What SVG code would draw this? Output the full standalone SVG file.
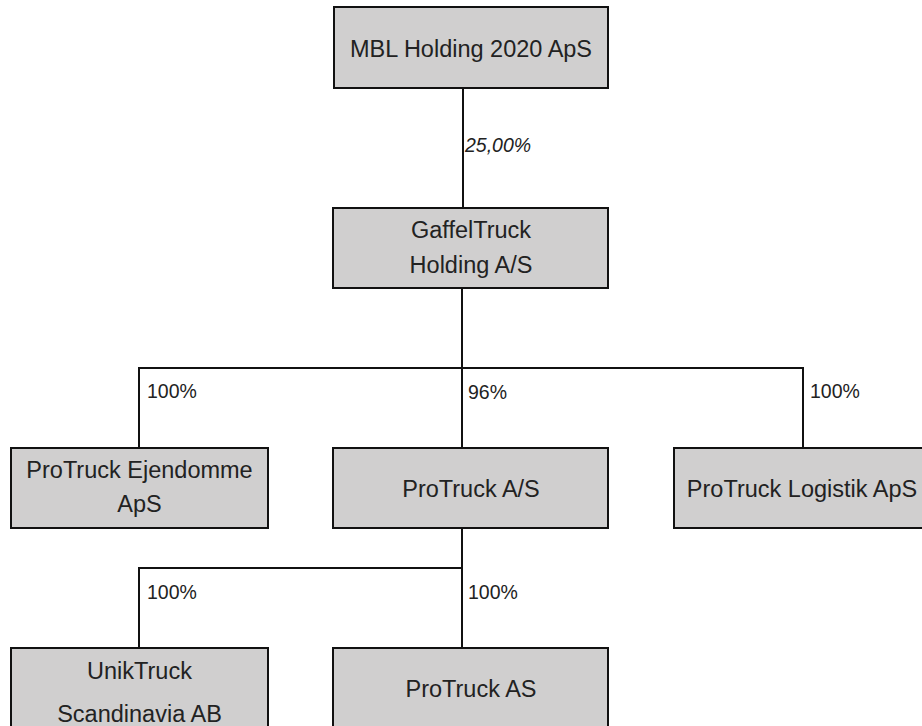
<svg xmlns="http://www.w3.org/2000/svg" width="922" height="726" viewBox="0 0 922 726">
<style>
.box{fill:#d0cfcf;stroke:#111;stroke-width:2}
.t{font-family:"Liberation Sans",Arial,sans-serif;font-size:23.5px;fill:#222;text-anchor:middle}
.lbl{font-family:"Liberation Sans",Arial,sans-serif;font-size:19.5px;fill:#222}
.it{font-style:italic}
.ln{stroke:#111;stroke-width:2;fill:none}
</style>
<rect width="922" height="726" fill="#fff"/>
<g id="connectors">
<line class="ln" x1="463" y1="88" x2="463" y2="208"/>
<text class="lbl it" x="465" y="152">25,00%</text>
<line class="ln" x1="462" y1="288" x2="462" y2="448"/>
<polyline class="ln" points="139,448 139,368 803,368 803,448"/>
<text class="lbl" x="147" y="398">100%</text>
<text class="lbl" x="468" y="399">96%</text>
<text class="lbl" x="810" y="398">100%</text>
<line class="ln" x1="462" y1="528" x2="462" y2="648"/>
<polyline class="ln" points="139,648 139,568 462,568"/>
<text class="lbl" x="147" y="599">100%</text>
<text class="lbl" x="468" y="599">100%</text>
</g>
<g id="mbl">
<rect class="box" x="334" y="7" width="274" height="81"/>
<text class="t" x="471" y="57">MBL Holding 2020 ApS</text>
</g>
<g id="gaffeltruck">
<rect class="box" x="333" y="208" width="275" height="80"/>
<text class="t" x="471" y="238">GaffelTruck</text>
<text class="t" x="471" y="273">Holding A/S</text>
</g>
<g id="ejendomme">
<rect class="box" x="11" y="448" width="257" height="80"/>
<text class="t" x="139.5" y="478">ProTruck Ejendomme</text>
<text class="t" x="139.5" y="512">ApS</text>
</g>
<g id="protruck-as-dk">
<rect class="box" x="333" y="448" width="275" height="80"/>
<text class="t" x="471" y="497">ProTruck A/S</text>
</g>
<g id="logistik">
<rect class="box" x="674" y="448" width="258" height="80"/>
<text class="t" x="802" y="497">ProTruck Logistik ApS</text>
</g>
<g id="uniktruck">
<rect class="box" x="11" y="648" width="257" height="90"/>
<text class="t" x="139.5" y="679">UnikTruck</text>
<text class="t" x="139.5" y="722">Scandinavia AB</text>
</g>
<g id="protruck-as-no">
<rect class="box" x="333" y="648" width="275" height="90"/>
<text class="t" x="471" y="697">ProTruck AS</text>
</g>
</svg>
